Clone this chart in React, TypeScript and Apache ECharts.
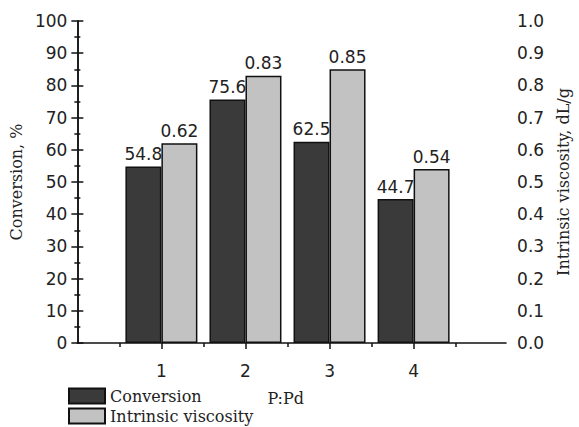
import React, { useEffect, useRef } from "react";
import * as echarts from "echarts";

const categories = [1, 2, 3, 4];
const conversion = [54.8, 75.6, 62.5, 44.7];
const viscosity = [0.62, 0.83, 0.85, 0.54];
const minorX = [0.5, 1.5, 2.5, 3.5, 4.5];

export default function App() {
  const ref = useRef<HTMLDivElement>(null);
  useEffect(() => {
    if (!ref.current) return;
    const chart = echarts.init(ref.current, null, { renderer: "svg" });
    const sans = "DejaVu Sans";
    const serif = "DejaVu Serif";
    const lbl = { fontFamily: sans, fontSize: 17, color: "#222" };
    chart.setOption({
      animation: false,
      backgroundColor: "#fff",
      grid: { left: 68, right: 67, top: 21, bottom: 84 },
      legend: {
        orient: "vertical",
        left: 63,
        top: 382,
        height: 45,
        itemWidth: 36,
        itemHeight: 15,
        itemGap: 2,
        icon: "rect",
        textStyle: { fontFamily: serif, fontSize: 16, color: "#222", lineHeight: 18 },
        data: ["Conversion", "Intrinsic viscosity"],
      },
      xAxis: [
        {
          type: "value",
          min: 0,
          max: 5.1,
          name: "P:Pd",
          nameLocation: "middle",
          nameGap: 47,
          nameTextStyle: { fontFamily: serif, fontSize: 16, color: "#222", padding: [0, 12, 0, 0] },
          axisLine: { show: true, lineStyle: { color: "#111", width: 1.5 } },
          axisTick: { show: true, customValues: categories, length: 6, lineStyle: { color: "#111", width: 1.5 } },
          axisLabel: { customValues: categories, margin: 19, ...lbl },
          splitLine: { show: false },
        },
        {
          type: "value",
          min: 0,
          max: 5.1,
          position: "bottom",
          axisLine: { show: false },
          axisTick: { show: true, customValues: minorX, length: 4, lineStyle: { color: "#111", width: 1.5 } },
          axisLabel: { show: false },
          splitLine: { show: false },
        },
      ],
      yAxis: [
        {
          type: "value",
          min: 0,
          max: 100,
          interval: 10,
          name: "Conversion, %",
          nameLocation: "middle",
          nameRotate: 90,
          nameGap: 43,
          nameTextStyle: { fontFamily: serif, fontSize: 16, color: "#222" },
          axisLine: { show: true, lineStyle: { color: "#111", width: 1.5 } },
          axisTick: { show: true, length: 6, lineStyle: { color: "#111", width: 1.5 } },
          minorTick: { show: true, splitNumber: 2, length: 3, lineStyle: { color: "#111", width: 1.5 } },
          axisLabel: { margin: 10, ...lbl },
          splitLine: { show: false },
        },
        {
          type: "value",
          min: 0,
          max: 1,
          interval: 0.1,
          position: "right",
          name: "Intrinsic viscosity, dL/g",
          nameLocation: "middle",
          nameRotate: 90,
          nameGap: 40,
          nameTextStyle: { fontFamily: serif, fontSize: 16, color: "#222" },
          axisLine: { show: true, lineStyle: { color: "#111", width: 1.5 } },
          axisTick: { show: true, length: 6, lineStyle: { color: "#111", width: 1.5 } },
          minorTick: { show: true, splitNumber: 2, length: 3, lineStyle: { color: "#111", width: 1.5 } },
          axisLabel: { margin: 11, formatter: (v: number) => v.toFixed(1), ...lbl },
          splitLine: { show: false },
        },
      ],
      series: [
        {
          name: "Conversion",
          type: "bar",
          xAxisIndex: 0,
          yAxisIndex: 0,
          barWidth: 36,
          barGap: "0%",
          data: categories.map((c, i) => [c, conversion[i]]),
          itemStyle: { color: "#3a3a3a", borderColor: "#111", borderWidth: 1.5 },
          label: { show: true, position: "top", distance: 4, formatter: (p: any) => p.value[1].toFixed(1), ...lbl },
        },
        {
          name: "Intrinsic viscosity",
          type: "bar",
          xAxisIndex: 0,
          yAxisIndex: 1,
          barWidth: 36,
          barGap: "0%",
          data: categories.map((c, i) => [c, viscosity[i]]),
          itemStyle: { color: "#c2c2c2", borderColor: "#111", borderWidth: 1.5 },
          label: { show: true, position: "top", distance: 4, formatter: (p: any) => p.value[1].toFixed(2), ...lbl },
        },
      ],
    });
    return () => chart.dispose();
  }, []);
  return (
    <div
      ref={ref}
      style={{ position: "absolute", left: 0, top: 0, width: 579, height: 427 }}
    />
  );
}
